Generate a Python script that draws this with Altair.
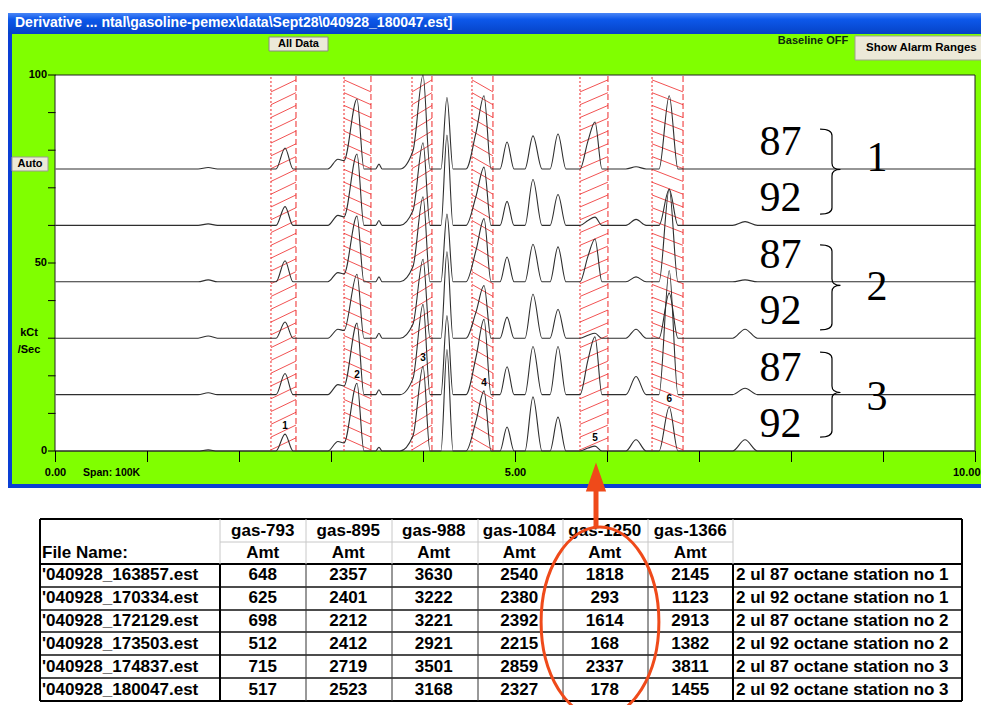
import altair as alt
import pandas as pd

W, H = 973, 697          # chart size (page minus the 8px margin)


def px(x):               # reference page x -> chart x
    return x - 8


def py(y):               # reference page y -> chart y
    return y - 8


# ---------------------------------------------------------------- data
files = ["'040928_163857.est", "'040928_170334.est", "'040928_172129.est",
         "'040928_173503.est", "'040928_174837.est", "'040928_180047.est"]
descriptions = ["2 ul 87 octane station no 1", "2 ul 92 octane station no 1",
                "2 ul 87 octane station no 2", "2 ul 92 octane station no 2",
                "2 ul 87 octane station no 3", "2 ul 92 octane station no 3"]
compounds = ["gas-793", "gas-895", "gas-988", "gas-1084", "gas-1250", "gas-1366"]
amt_793 = [648, 625, 698, 512, 715, 517]
amt_895 = [2357, 2401, 2212, 2412, 2719, 2523]
amt_988 = [3630, 3222, 3221, 2921, 3501, 3168]
amt_1084 = [2540, 2380, 2392, 2215, 2859, 2327]
amt_1250 = [1818, 293, 1614, 168, 2337, 178]
amt_1366 = [2145, 1123, 2913, 1382, 3811, 1455]

# axis ticks
x_tick_values = list(range(11))
x_tick_labels = ["0.00", "", "", "", "", "5.00", "", "", "", "", "10.00"]
y_tick_values = list(range(0, 101, 10))
y_tick_labels = ["0", "", "", "", "", "50", "", "", "", "", "100"]

# vertical offset of each trace (kCt/Sec), top trace first
trace_offsets = [75, 60, 45, 30, 15, 0]
octane_labels = ["87", "92", "87", "92", "87", "92"]
group_labels = ["1", "2", "3"]
group_label_y = [78, 43.6, 14.4]
brace_y = [74.3, 43.5, 15.0]

# peak outlines: (time, fraction of peak height)
peak_shapes = {
    "b0":  [(1.55, 0), (1.66, 1), (1.76, 0)],
    "p1":  [(2.397, 0), (2.495, 1), (2.582, 0)],
    "p2":  [(2.96, 0), (3.07, 0.14), (3.136, 0.12), (3.277, 1), (3.353, 0)],
    "s2":  [(3.48, 0), (3.516, 1), (3.55, 0)],
    "p3":  [(3.745, 0), (3.886, 0.18), (3.995, 1), (4.071, 0)],
    "p3b": [(4.19, 0), (4.255, 1), (4.321, 0)],
    "p4":  [(4.462, 0), (4.571, 0.5), (4.658, 1), (4.734, 0)],
    "p5a": [(4.832, 0), (4.908, 1), (4.984, 0)],
    "p5b": [(5.103, 0), (5.19, 1), (5.288, 0)],
    "p5c": [(5.375, 0), (5.462, 1), (5.549, 0)],
    "p5":  [(5.701, 0), (5.788, 0.6), (5.864, 1), (5.94, 0)],
    "p5d": [(6.2, 0), (6.31, 1), (6.42, 0)],
    "p6":  [(6.56, 0), (6.671, 1), (6.766, 0)],
    "p7":  [(7.36, 0), (7.495, 1), (7.63, 0)],
}
# peak heights (kCt/Sec) per trace, top trace first
peak_heights = {
    "b0":  [0.4, 0.4, 0.5, 0.6, 0.5, 0.3],
    "p1":  [5.6, 5.0, 5.6, 4.3, 5.6, 4.5],
    "p2":  [18.6, 19.0, 17.5, 17.0, 19.0, 18.0],
    "s2":  [1.3, 1.3, 1.3, 1.3, 1.3, 1.0],
    "p3":  [27.0, 22.0, 22.6, 21.0, 24.0, 22.5],
    "p3b": [19.0, 24.0, 18.0, 23.0, 21.0, 27.0],
    "p4":  [19.5, 15.5, 16.8, 14.0, 20.0, 16.0],
    "p5a": [7.2, 6.4, 6.6, 5.6, 7.4, 6.4],
    "p5b": [8.8, 12.2, 10.0, 11.7, 12.8, 14.4],
    "p5c": [9.3, 8.2, 9.3, 7.7, 12.8, 9.0],
    "p5":  [12.5, 2.2, 11.4, 1.3, 15.4, 1.3],
    "p5d": [0.6, 1.6, 1.3, 2.4, 4.8, 3.0],
    "p6":  [19.5, 9.6, 24.7, 12.0, 33.0, 11.7],
    "p7":  [0.0, 1.0, 0.5, 2.4, 1.7, 3.0],
}
labelled_peaks = ["p1", "p2", "p3", "p4", "p5", "p6"]
peak_numbers = ["1", "2", "3", "4", "5", "6"]

# alarm ranges (minutes)
band_start = [2.342, 3.136, 3.875, 4.527, 5.701, 6.484]
band_end = [2.614, 3.429, 4.092, 4.755, 6.005, 6.821]
hatch_dir = ["/", "\\", "/", "\\", "/", "\\"]

# ---------------------------------------------------------------- tables
trace_rows = []
for i in range(6):
    pts = [(0.0, 0.0), (10.0, 0.0)]
    for name, shape in peak_shapes.items():
        h = peak_heights[name][i]
        if h > 0:
            pts += [(t, f * h) for t, f in shape]
    pts.sort()
    for k, (t, v) in enumerate(pts):
        trace_rows.append({"trace": files[i], "t": t, "v": trace_offsets[i] + v, "k": k})
traces = pd.DataFrame(trace_rows)

bands = pd.DataFrame({"s": band_start, "e": band_end, "lo": 0, "hi": 100})
RISE, STEP = 3.2, 3.4
hatch_rows = []
for s, e, d in zip(band_start, band_end, hatch_dir):
    v = 0.3
    while v + RISE <= 99.8:
        if d == "/":
            hatch_rows.append({"x": s, "x2": e, "y": v, "y2": v + RISE})
        else:
            hatch_rows.append({"x": s, "x2": e, "y": v + RISE, "y2": v})
        v += STEP
hatch = pd.DataFrame(hatch_rows)

labels6 = pd.DataFrame({
    "t": [peak_shapes[p][[f for _, f in peak_shapes[p]].index(1)][0] for p in labelled_peaks],
    "v": [trace_offsets[5] + peak_heights[p][5] for p in labelled_peaks],
    "txt": peak_numbers})
octane = pd.DataFrame({"t": 7.88, "v": [o + 7.2 for o in trace_offsets], "txt": octane_labels})
groups = pd.DataFrame({"t": 8.93, "v": group_label_y, "txt": group_labels})
braces = pd.DataFrame({"t": 8.44, "v": brace_y})
xticks = pd.DataFrame({"v": x_tick_values, "lbl": x_tick_labels})
yticks = pd.DataFrame({"v": y_tick_values, "lbl": y_tick_labels})

amounts = pd.DataFrame({"file": files * 6,
                        "compound": [c for c in compounds for _ in files],
                        "amt": amt_793 + amt_895 + amt_988 + amt_1084 + amt_1250 + amt_1366})
file_df = pd.DataFrame({"file": files, "desc": descriptions})
comp_df = pd.DataFrame({"compound": compounds})

ONE = pd.DataFrame({"_": [0]})
UI = "Liberation Sans"
SERIF = "Liberation Serif"
GREEN = "#80ff00"
BLUE = "#0a3fd4"
RED = "#ee2a2a"
ORANGE = "#ef4a1a"


def rect(x1, y1, x2, y2, **kw):
    return alt.Chart(ONE).mark_rect(**kw).encode(
        x=alt.value(px(x1)), x2=alt.value(px(x2)), y=alt.value(py(y1)), y2=alt.value(py(y2)))


def rule(x1, y1, x2, y2, **kw):
    return alt.Chart(ONE).mark_rule(**kw).encode(
        x=alt.value(px(x1)), x2=alt.value(px(x2)), y=alt.value(py(y1)), y2=alt.value(py(y2)))


def text(x, y, s, **kw):
    kw.setdefault("baseline", "middle")
    kw.setdefault("font", UI)
    kw.setdefault("fontWeight", "bold")
    kw.setdefault("color", "black")
    return alt.Chart(ONE).mark_text(text=s, **kw).encode(x=alt.value(px(x)), y=alt.value(py(y)))


# ---------------------------------------------------------------- window frame
title_grad = {"gradient": "linear", "x1": 0, "y1": 0, "x2": 0, "y2": 1,
              "stops": [{"offset": 0, "color": "#4a86f6"}, {"offset": 0.3, "color": "#0d58ea"},
                        {"offset": 1, "color": "#0642c6"}]}
frame = [
    rect(8, 13, 990, 488, color=BLUE),
    rect(8, 13, 990, 34, color=title_grad),
    rect(12, 34, 990, 484, color=GREEN),
    text(15, 23, "Derivative ... ntal\\gasoline-pemex\\data\\Sept28\\040928_180047.est]",
         align="left", color="white", fontSize=14),
    rect(269, 37, 328, 51, color="#ece9d8", stroke="#8a8a80", strokeWidth=1),
    text(298.5, 44, "All Data", align="center", fontSize=11),
    text(813, 41, "Baseline OFF", align="center", fontSize=11, color="#0c2a0c"),
    rect(855, 36, 992, 60, color="#ece9d8", stroke="#a0a090", strokeWidth=1),
    text(866, 48, "Show Alarm Ranges", align="left", fontSize=11.5),
    rect(12, 157, 48, 171, color="#ece9d8", stroke="#9a9a90", strokeWidth=1),
    text(30, 164, "Auto", align="center", fontSize=11),
    text(29, 333, "kCt", align="center", fontSize=11),
    text(29, 350, "/Sec", align="center", fontSize=11),
    text(83, 473, "Span: 100K", align="left", fontSize=10.5),
    rect(55, 75, 975, 451, color="white", stroke="#202020", strokeWidth=1),
]

# ---------------------------------------------------------------- chromatogram
xs = alt.Scale(domain=[0, 10], range=[px(55.5), px(975.5)], nice=False, zero=False)
ys = alt.Scale(domain=[0, 100], range=[py(451), py(75)], nice=False, zero=False, clamp=True)
XN = dict(scale=xs, axis=None)
YN = dict(scale=ys, axis=None)

band_left = alt.Chart(bands).mark_rule(color=RED, strokeWidth=1, strokeDash=[2, 2]).encode(
    x=alt.X("s:Q", **XN), y=alt.Y("lo:Q", **YN), y2="hi:Q")
band_right = alt.Chart(bands).mark_rule(color=RED, strokeWidth=1, strokeDash=[6, 3]).encode(
    x=alt.X("e:Q", **XN), y=alt.Y("lo:Q", **YN), y2="hi:Q")
hatch_lines = alt.Chart(hatch).mark_rule(color="#f25252", strokeWidth=1).encode(
    x=alt.X("x:Q", **XN), x2="x2:Q", y=alt.Y("y:Q", **YN), y2="y2:Q")

trace_lines = alt.Chart(traces).mark_line(color="#2e2e2e", strokeWidth=1.1, interpolate="monotone").encode(
    x=alt.X("t:Q", **XN), y=alt.Y("v:Q", **YN), detail="trace:N", order="k:Q")

# hand-built axes (ticks through the same scales)
AXF = dict(font=UI, fontWeight="bold", fontSize=11, color="black", baseline="middle")
x_tick_marks = alt.Chart(xticks).mark_rule(color="black", strokeWidth=1).encode(
    x=alt.X("v:Q", **XN), y=alt.value(py(451)), y2=alt.value(py(462)))
x_tick_text = alt.Chart(xticks).transform_filter("datum.v < 10").mark_text(align="center", **AXF).encode(
    x=alt.X("v:Q", **XN), y=alt.value(py(473)), text="lbl:N")
x_tick_last = alt.Chart(xticks).transform_filter("datum.v == 10").mark_text(align="right", dx=5, **AXF).encode(
    x=alt.X("v:Q", **XN), y=alt.value(py(473)), text="lbl:N")
y_tick_marks = alt.Chart(yticks).mark_rule(color="black", strokeWidth=1).encode(
    y=alt.Y("v:Q", **YN), x=alt.value(px(48)), x2=alt.value(px(55.5)))
y_tick_text = alt.Chart(yticks).mark_text(align="right", **AXF).encode(
    y=alt.Y("v:Q", **YN), x=alt.value(px(47)), text="lbl:N")

peak_lbl = alt.Chart(labels6).mark_text(font=UI, fontWeight="bold", fontSize=10, color="black",
                                        baseline="bottom", dy=-3).encode(
    x=alt.X("t:Q", **XN), y=alt.Y("v:Q", **YN), text="txt:N")
octane_lbl = alt.Chart(octane).mark_text(font=SERIF, fontSize=42, color="black", baseline="middle").encode(
    x=alt.X("t:Q", **XN), y=alt.Y("v:Q", **YN), text="txt:N")
group_lbl = alt.Chart(groups).mark_text(font=SERIF, fontSize=42, color="black", baseline="middle").encode(
    x=alt.X("t:Q", **XN), y=alt.Y("v:Q", **YN), text="txt:N")
BRACE = ("M -0.28 -1 Q 0 -1 0 -0.85 L 0 -0.2 Q 0 -0.05 0.2 -0.05 "
         "Q 0 -0.05 0 0.1 L 0 0.85 Q 0 1 -0.28 1")
brace_marks = alt.Chart(braces).mark_point(shape=BRACE, filled=False, stroke="black", strokeWidth=1.2,
                                           size=85 ** 2, opacity=1).encode(
    x=alt.X("t:Q", **XN), y=alt.Y("v:Q", **YN))

chrom = alt.layer(hatch_lines, band_left, band_right, trace_lines, x_tick_marks, x_tick_text,
                  x_tick_last, y_tick_marks, y_tick_text, peak_lbl, octane_lbl, group_lbl, brace_marks)

# ---------------------------------------------------------------- table
cx = alt.Scale(domain=compounds, range=[px(220), px(733)], paddingInner=0, paddingOuter=0)
ry = alt.Scale(domain=files, range=[py(564), py(701)], paddingInner=0, paddingOuter=0)
TFONT = dict(font=UI, fontWeight="bold", fontSize=17, color="black", baseline="middle")

grid = []
for y in (519, 564, 701):
    grid.append(rule(40, y, 962, y, color="black", strokeWidth=2))
for y in (587, 610, 632, 655, 678):
    grid.append(rule(40, y, 962, y, color="#111", strokeWidth=1.3))
grid.append(rule(220, 542, 733, 542, color="#c8c8c8", strokeWidth=1))
for x in (306, 392, 478, 563, 648):
    grid.append(rule(x, 519, x, 564, color="#c8c8c8", strokeWidth=1))
    grid.append(rule(x, 564, x, 701, color="#333", strokeWidth=1))
for x in (220, 733):
    grid.append(rule(x, 519, x, 564, color="#c8c8c8", strokeWidth=1))
    grid.append(rule(x, 564, x, 701, color="black", strokeWidth=2))
for x in (40, 962):
    grid.append(rule(x, 519, x, 701, color="black", strokeWidth=2))

amt_text = alt.Chart(amounts).mark_text(align="center", **TFONT).encode(
    x=alt.X("compound:N", scale=cx, axis=None), y=alt.Y("file:N", scale=ry, axis=None), text="amt:Q")
head1 = alt.Chart(comp_df).mark_text(align="center", **TFONT).encode(
    x=alt.X("compound:N", scale=cx, axis=None), y=alt.value(py(531)), text="compound:N")
head2 = alt.Chart(comp_df).mark_text(align="center", text="Amt", **TFONT).encode(
    x=alt.X("compound:N", scale=cx, axis=None), y=alt.value(py(553)))
file_text = alt.Chart(file_df).mark_text(align="left", **TFONT).encode(
    x=alt.value(px(42)), y=alt.Y("file:N", scale=ry, axis=None), text="file:N")
desc_text = alt.Chart(file_df).mark_text(align="left", **TFONT).encode(
    x=alt.value(px(736)), y=alt.Y("file:N", scale=ry, axis=None), text="desc:N")
table = alt.layer(amt_text, head1, head2, file_text, desc_text)
file_head = text(42, 553, "File Name:", align="left", fontSize=17)

# ---------------------------------------------------------------- callout
ELLIPSE = ("M 0.62 0 C 0.62 0.552 0.342 1 0 1 C -0.342 1 -0.62 0.552 -0.62 0 "
           "C -0.62 -0.552 -0.342 -1 0 -1 C 0.342 -1 0.62 -0.552 0.62 0 Z")
ellipse = alt.Chart(ONE).mark_point(shape=ELLIPSE, filled=False, stroke=ORANGE, strokeWidth=3,
                                    size=190 ** 2, opacity=1).encode(
    x=alt.value(px(600)), y=alt.value(py(622)))
shaft = rule(596, 488, 596, 528, color=ORANGE, strokeWidth=5)
head = alt.Chart(ONE).mark_point(shape="M 0 -1 L 0.7 1 L -0.7 1 Z", filled=True, color=ORANGE,
                                 size=29 ** 2, opacity=1).encode(
    x=alt.value(px(596)), y=alt.value(py(477)))

chart = alt.layer(
    *frame, chrom, *grid, table, file_head, ellipse, shaft, head
).resolve_scale(x="independent", y="independent").properties(
    width=W, height=H, padding=0, autosize=alt.AutoSizeParams(type="none"), background="white"
).configure_view(stroke=None)

chart.save("out.html", embed_options={"renderer": "svg", "actions": False})
